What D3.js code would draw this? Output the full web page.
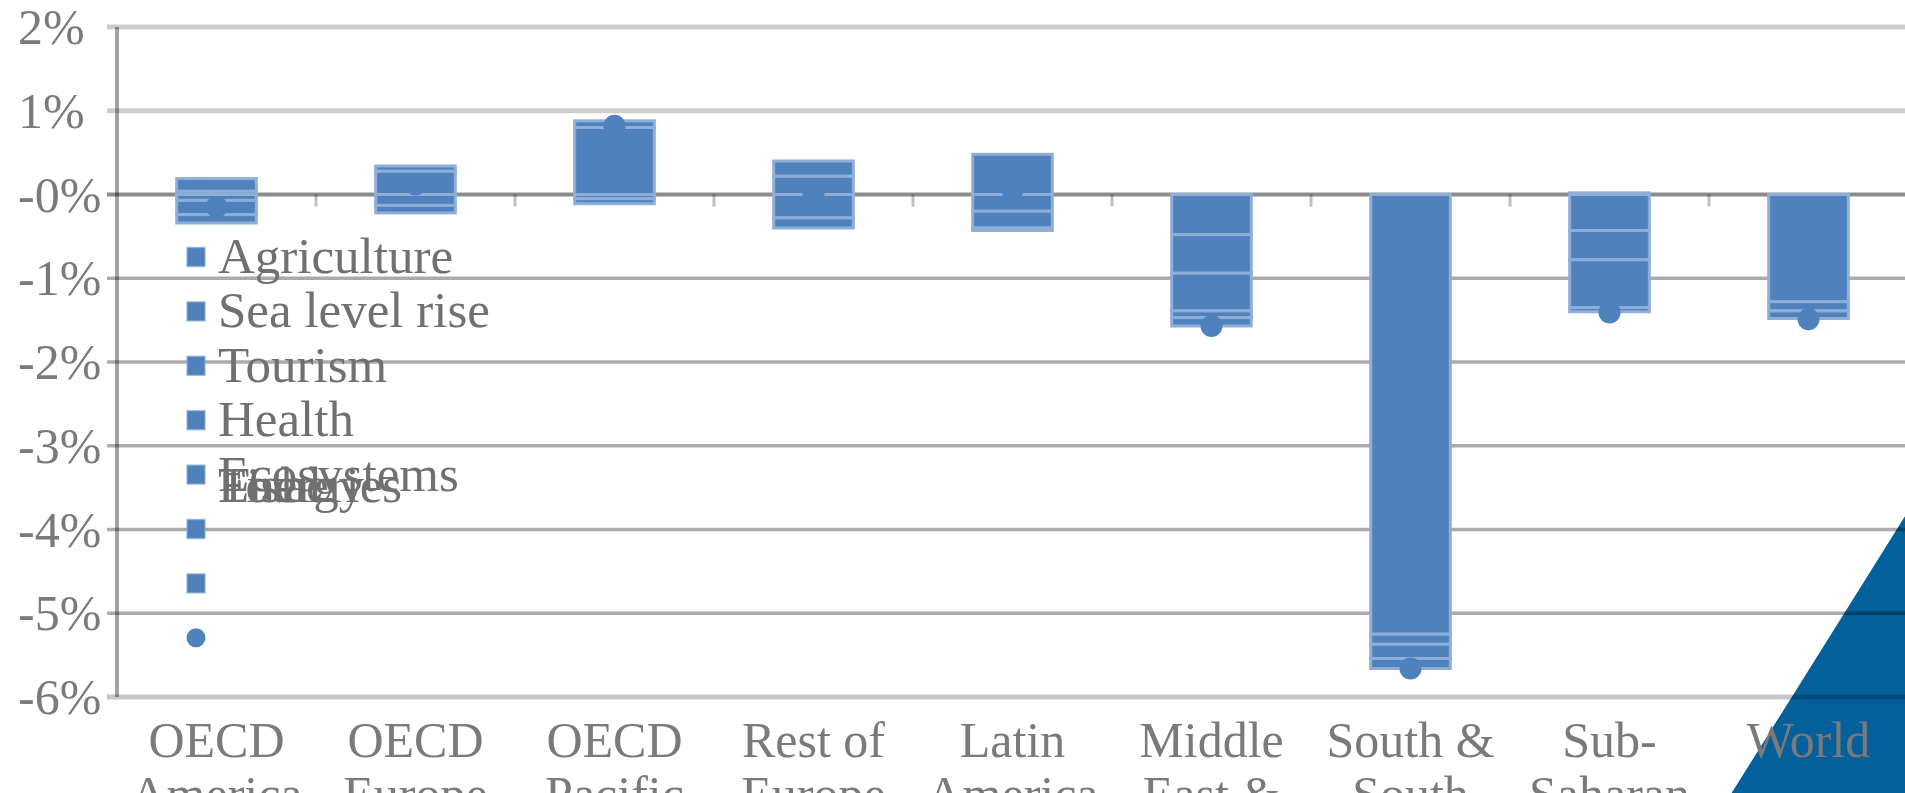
<!DOCTYPE html>
<html><head><meta charset="utf-8">
<script src="https://cdn.jsdelivr.net/npm/d3@7"></script>
<style>html,body{margin:0;padding:0;background:#fff;overflow:hidden}</style>
</head><body><svg id="c" width="1905" height="793"></svg>
<script>
const categories = ["OECD America","OECD Europe","OECD Pacific","Rest of Europe","Latin America","Middle East & North Africa","South & South East Asia","Sub-Saharan Africa","World"];
const seriesNames = ["Agriculture","Sea level rise","Tourism","Health","Ecosystems","Energy","Fisheries"];
const totalName = "Total";
const agriculture  = [-0.07,-0.13, 0.80, 0.22, 0.48,-0.48,-5.25,-0.43,-1.28];
const seaLevelRise = [-0.17,-0.09,-0.05,-0.28,-0.20,-0.46,-0.12,-0.35,-0.11];
const tourism      = [ 0.04, 0.28, 0.08, 0.18,-0.20,-0.45,-0.17, 0.02,-0.09];
const health       = [-0.10, 0.06,-0.06,-0.12,-0.03,-0.08,-0.12,-0.57, 0.00];
const ecosystems   = [ 0.15, 0.00, 0.00, 0.00, 0.00,-0.10, 0.00,-0.05, 0.00];
const energy       = [ 0.00, 0.00, 0.00, 0.00, 0.00, 0.00, 0.00, 0.00, 0.00];
const fisheries    = [ 0.00, 0.00, 0.00, 0.00, 0.00, 0.00, 0.00, 0.00, 0.00];
const total        = [-0.15, 0.12, 0.82, 0.00, 0.05,-1.57,-5.66,-1.41,-1.49];
const yTicks = [2,1,0,-1,-2,-3,-4,-5,-6];
const yTickLabels = ["2%","1%","-0%","-1%","-2%","-3%","-4%","-5%","-6%"];

const seriesValues = [agriculture, seaLevelRise, tourism, health, ecosystems, energy, fisheries];
const table = categories.map((c,i)=>{const r={cat:c}; seriesNames.forEach((s,j)=>r[s]=seriesValues[j][i]); return r;});

const W=1905,H=793;
const svg=d3.select("#c");
const FONT="'Liberation Serif', 'Times New Roman', serif";
const BLUE="#4f81bd";

const x=d3.scaleBand().domain(categories).range([117,1908]).paddingInner(0.6).paddingOuter(0.3);
const y=d3.scaleLinear().domain([-6,2]).range([697,27]);

// decorative corner triangle
svg.append("path").attr("d",`M${W},${H*0.651} L${W*0.909},${H} L${W},${H} Z`).attr("fill","#03609a");

// gridlines
const g=svg.append("g");
yTicks.forEach(t=>{
  let stroke="rgba(0,0,0,0.33)", sw=3.5;
  if(t===0){stroke="rgba(0,0,0,0.45)"; sw=4;}
  else if(t===2||t===1){stroke="rgba(0,0,0,0.2)"; sw=5;}
  else if(t===-6){stroke="rgba(0,0,0,0.22)"; sw=5;}
  g.append("line").attr("x1",107).attr("x2",W).attr("y1",y(t)).attr("y2",y(t)).attr("stroke",stroke).attr("stroke-width",sw);
});
// y axis line
svg.append("line").attr("x1",117).attr("x2",117).attr("y1",y(2)).attr("y2",y(-6)).attr("stroke","rgba(0,0,0,0.36)").attr("stroke-width",4);
// category ticks on zero line
const step=x.step();
categories.slice(1).forEach(c=>{
  const bx=x(c)-(step-x.bandwidth())/2;
  svg.append("line").attr("x1",bx).attr("x2",bx).attr("y1",y(0)).attr("y2",y(0)+12).attr("stroke","rgba(0,0,0,0.25)").attr("stroke-width",3);
});

// y tick labels
svg.append("g").selectAll("text").data(yTicks).join("text")
  .attr("x",18).attr("y",d=>y(d)+17).attr("font-family",FONT).attr("font-size",50).attr("fill","#7a7a7a")
  .text((d,i)=>yTickLabels[i]);

// stacked bars
const stack=d3.stack().keys(seriesNames).offset(d3.stackOffsetDiverging)(table);
const bars=svg.append("g");
stack.forEach(layer=>{
  bars.selectAll(null).data(layer.filter(d=>Math.abs(d[1]-d[0])>1e-9)).join("rect")
    .attr("x",d=>x(d.data.cat)).attr("width",x.bandwidth())
    .attr("y",d=>y(Math.max(d[0],d[1]))).attr("height",d=>Math.abs(y(d[0])-y(d[1])))
    .attr("fill",BLUE).attr("stroke","#8eaed7").attr("stroke-width",3);
});
// total dots
svg.append("g").selectAll("circle").data(categories).join("circle")
  .attr("cx",d=>x(d)+x.bandwidth()/2).attr("cy",(d,i)=>y(total[i])).attr("r",11).attr("fill",BLUE);

// category labels (wrapped)
const xl=svg.append("g");
categories.forEach(c=>{
  const t=xl.append("text").attr("font-family",FONT).attr("font-size",50).attr("fill","#7a7a7a")
    .attr("text-anchor","middle").attr("x",x(c)+x.bandwidth()/2).attr("y",757);
  const tokens=c.replace(/-/g,"- ").split(" ").filter(s=>s.length);
  let lines=[], cur="";
  const probe=svg.append("text").attr("font-family",FONT).attr("font-size",50);
  tokens.forEach(tok=>{
    const joiner = cur===""?"":(cur.endsWith("-")?"":" ");
    const cand=cur+joiner+tok;
    probe.text(cand);
    if(cur!=="" && probe.node().getComputedTextLength()>190){lines.push(cur); cur=tok;}
    else cur=cand;
  });
  if(cur) lines.push(cur);
  probe.remove();
  lines.forEach((l,i)=>t.append("tspan").attr("x",x(c)+x.bandwidth()/2).attr("dy",i===0?0:54).text(l));
});

// legend
const lg=svg.append("g");
const legendNames=seriesNames.concat([totalName]);
legendNames.forEach((n,i)=>{
  const cy=257+i*54.4;
  if(i<7){
    lg.append("rect").attr("x",187).attr("y",cy-9.5).attr("width",18).attr("height",19).attr("fill",BLUE)
      .attr("stroke","rgba(143,174,215,0.7)").attr("stroke-width",1.5);
  } else {
    lg.append("circle").attr("cx",196).attr("cy",cy).attr("r",9.5).attr("fill",BLUE);
  }
  const by = i<5 ? cy+16 : 502;
  lg.append("text").attr("x",218).attr("y",by).attr("font-family",FONT).attr("font-size",51).attr("fill","#707070").text(n);
});
</script></body></html>
